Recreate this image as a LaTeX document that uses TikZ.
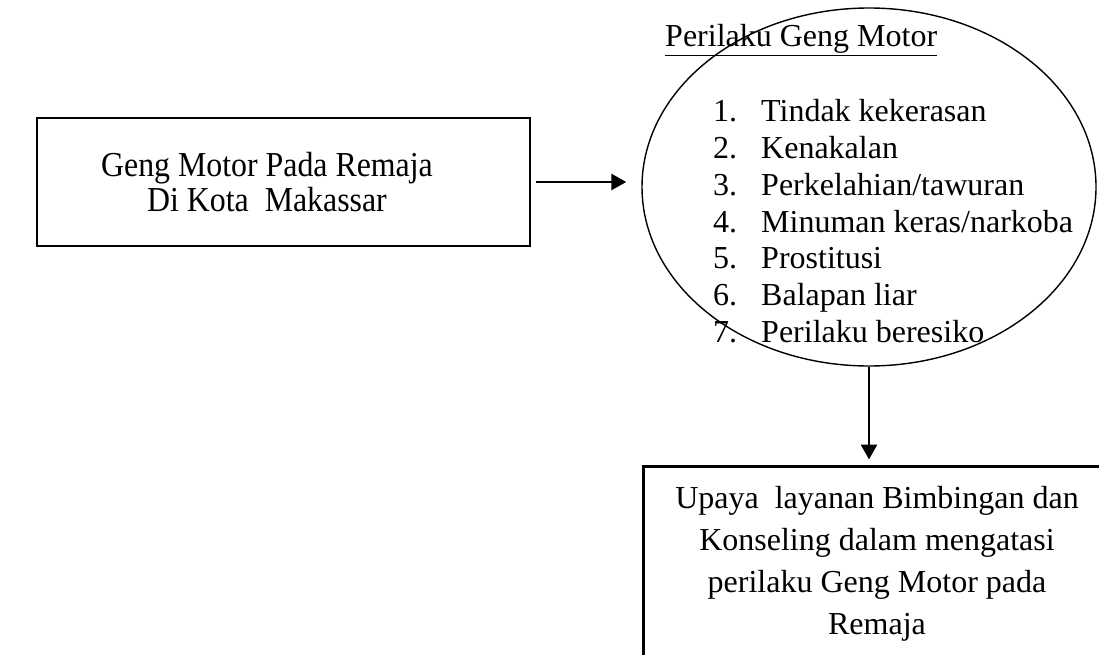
\documentclass[tikz,border=0pt]{standalone}
\usepackage{fontspec}
\setmainfont{Liberation Serif}
\newfontfamily\narrowserif[FakeStretch=0.91]{Liberation Serif}
\usetikzlibrary{shapes.geometric,arrows.meta}

\begin{document}
\begin{tikzpicture}[x=1pt, y=-1pt, >={Triangle[length=15pt,width=16pt]},
  box/.style={draw, line width=1.4pt, inner sep=0pt, align=center},
  txt/.style={font=\fontsize{32}{36.7}\selectfont, inner sep=0pt},
  arr/.style={->, line width=2.8pt}]
  \useasboundingbox (0,0) rectangle (1099,655);

  % Nodes
  \node[box, minimum width=493pt, minimum height=128pt] (motor) at (283.5,182) {};
  \node[align=center, inner sep=0pt, font=\narrowserif\fontsize{35}{35}\selectfont] (motorteks) at (267,182) {Geng Motor Pada Remaja\\Di Kota\ \ Makassar};
  \node[draw, ellipse, line width=1.4pt, minimum width=454pt, minimum height=358pt, inner sep=0pt] (perilaku) at (869,187) {};
  \node[txt, anchor=base west] (judul) at (665,47) {\underline{Perilaku Geng Motor}};
  \foreach \t [count=\i] in {Tindak kekerasan, Kenakalan, Perkelahian/tawuran, Minuman keras/narkoba, Prostitusi, Balapan liar, Perilaku beresiko} {
    \node[txt, anchor=base west] (no\i) at (713,{122+36.7*(\i-1)}) {\i.};
    \node[txt, anchor=base west] (item\i) at (761,{122+36.7*(\i-1)}) {\t};
  }
  \node[box, line width=3pt, minimum width=468pt, minimum height=196pt, font=\fontsize{32}{42}\selectfont] (upaya) at (877,564) {Upaya\ \ layanan Bimbingan dan\\Konseling dalam mengatasi\\perilaku Geng Motor pada\\Remaja};

  % Arrows
  \draw[arr] ([xshift=5pt]motor.east) -- ([xshift=-15pt]motor.east -| perilaku.west);
  \draw[arr] (perilaku.south) -- ([yshift=5pt]perilaku.south |- upaya.north);
\end{tikzpicture}
\end{document}
